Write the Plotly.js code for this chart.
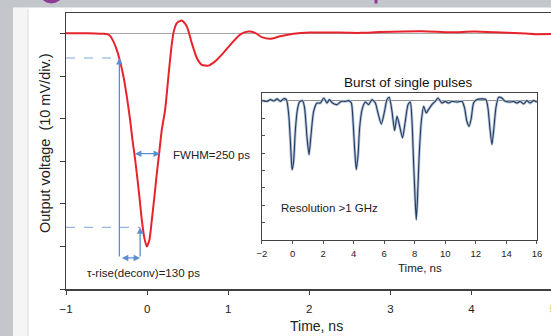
<!DOCTYPE html>
<html>
<head>
<meta charset="utf-8">
<script src="https://cdn.plot.ly/plotly-3.0.1.min.js"></script>
<style>html,body{margin:0;padding:0;background:#fff;}#chart{width:551px;height:336px;}</style>
</head>
<body>
<div id="chart"></div>
<script>
// Main pulse (time in ns, output in divisions of 10 mV)
var mainT = [-1.0,-0.826,-0.641,-0.543,-0.493,-0.456,-0.416,-0.374,-0.333,-0.292,-0.250,-0.210,-0.181,-0.157,-0.127,-0.095,-0.065,-0.033,-0.004,0.028,0.058,0.090,0.120,0.148,0.181,0.222,0.263,0.296,0.325,0.366,0.428,0.490,0.551,0.613,0.674,0.756,0.838,0.941,1.044,1.147,1.249,1.332,1.414,1.517,1.640,1.804,2.01,2.216,2.626,2.873,3.391,3.736,4.032,4.291,4.599,4.784,4.98];
var mainV = [0.01,0.01,0.007,0,-0.01,-0.05,-0.18,-0.38,-0.65,-1.00,-1.48,-2.02,-2.49,-2.82,-3.28,-3.83,-4.38,-4.81,-5.0,-4.85,-4.38,-3.83,-3.28,-2.82,-2.26,-1.79,-1.00,-0.38,0.02,0.25,0.31,0.17,-0.22,-0.57,-0.73,-0.75,-0.65,-0.45,-0.22,-0.02,0.05,0.02,-0.08,-0.12,-0.06,0.0,0.03,0.03,0.02,0.04,0.06,0.035,0.05,0.035,0.01,-0.01,-0.007];

// Inset: burst of single pulses
var burstT = [-1.99,-1.67,-1.45,-1.23,-1.01,-0.80,-0.58,-0.40,-0.25,-0.14,-0.03,0.07,0.18,0.30,0.45,0.66,0.79,0.95,1.08,1.21,1.38,1.60,1.82,2.04,2.26,2.41,2.62,2.91,3.19,3.45,3.67,3.85,3.96,4.06,4.17,4.29,4.39,4.55,4.76,4.98,5.20,5.42,5.59,5.81,6.02,6.18,6.33,6.51,6.68,6.84,6.99,7.20,7.38,7.56,7.71,7.82,7.92,8.03,8.10,8.18,8.29,8.43,8.58,8.75,8.90,9.12,9.34,9.52,9.78,9.99,10.21,10.43,10.76,11.09,11.26,11.41,11.56,11.70,11.85,12.07,12.40,12.66,12.79,12.92,13.05,13.18,13.31,13.48,13.70,13.92,14.25,14.46,14.68,14.90,15.12,15.34,15.55,15.77,15.99];
var burstV = [0.02,-0.02,0.08,0.0,0.12,-0.02,0.13,0.08,-0.79,-2.33,-3.96,-3.48,-1.75,-0.6,-0.06,0.02,-0.4,-2.13,-3.1,-1.94,-0.6,-0.12,-0.12,0.17,-0.12,0.08,-0.12,-0.21,-0.02,-0.02,0.02,-0.12,-1.17,-2.71,-3.96,-3.1,-1.56,-0.5,-0.06,-0.21,0.08,-0.12,-0.69,-1.33,-0.6,0.08,0.21,-0.6,-1.71,-0.88,-1.37,-2.13,-1.17,-0.21,-0.06,-1.17,-3.48,-5.78,-6.84,-5.59,-3.1,-1.17,-0.31,-0.69,-0.5,-0.21,-0.02,0.17,-0.12,-0.02,-0.12,-0.02,-0.06,-0.02,-0.4,-1.17,-1.46,-0.98,-0.12,0.08,0.12,0.08,-0.4,-1.56,-2.52,-1.56,-0.4,0.21,0.17,-0.02,-0.06,-0.02,-0.12,-0.02,-0.17,0.02,-0.12,0.02,-0.06];

var mainTicks = [-1,0,1,2,3,4];
var mainYTicks = [0,-1,-2,-3,-4,-5,-6];
var insetTicks = [-2,0,2,4,6,8,10,12,14,16];
var insetYTicks = [0,-1,-2,-3,-4,-5,-6,-7,-8];

var FONT = 'Liberation Sans, Arial, sans-serif';

// pixel helpers for page decoration only
function PX(px){return (px-66)/485;}
function PY(py){return (289-py)/276;}

var traces = [
  {x: mainT, y: mainV, mode:'lines', line:{color:'#e8232b', width:2, shape:'spline', smoothing:0.6}, xaxis:'x', yaxis:'y', hoverinfo:'skip'},
  {x: burstT, y: burstV, mode:'lines', line:{color:'#b3c2d6', width:2.8, shape:'spline', smoothing:0.6}, xaxis:'x2', yaxis:'y2', hoverinfo:'skip'},
  {x: burstT, y: burstV, mode:'lines', line:{color:'#243b60', width:1.1, shape:'spline', smoothing:0.6}, xaxis:'x2', yaxis:'y2', hoverinfo:'skip'}
];

var blue = '#5b8fd3';
var layout = {
  width:551, height:336,
  margin:{l:66, r:0, t:13, b:47},
  paper_bgcolor:'#ffffff', plot_bgcolor:'rgba(0,0,0,0)',
  showlegend:false,
  font:{family:FONT, color:'#222'},
  xaxis:{range:[-1,4.98], tickvals:mainTicks, ticks:'outside', ticklen:4, tickcolor:'#404040',
         showline:true, linecolor:'#404040', linewidth:1.5, mirror:true,
         showgrid:false, zeroline:false, tickfont:{size:11.5, color:'#222'}, ticklabelstandoff:5},
  yaxis:{range:[-6,0.487], tickvals:mainYTicks, ticks:'outside', ticklen:5, tickcolor:'#404040',
         showticklabels:false, showline:true, linecolor:'#404040', linewidth:1.5,
         showgrid:false, zeroline:true, zerolinecolor:'#a6a6a6', zerolinewidth:1.5},
  xaxis2:{domain:[0.4041,0.9711], anchor:'y2', range:[-2,16], tickvals:insetTicks, ticks:'outside', ticklen:3,
          tickcolor:'#555', showline:true, linecolor:'#444', linewidth:1, mirror:true,
          showgrid:false, zeroline:false, tickfont:{size:9.5, color:'#222'}, ticklabelstandoff:2},
  yaxis2:{domain:[0.1786,0.7101], anchor:'x2', range:[-8,0.46], tickvals:insetYTicks, ticks:'inside', ticklen:3,
          tickcolor:'#555', showticklabels:false, showline:true, linecolor:'#444', linewidth:1, mirror:true,
          showgrid:false, zeroline:true, zerolinecolor:'#8c8c8c', zerolinewidth:1},
  shapes:[
    // slide background decoration
    {type:'rect', xref:'paper', yref:'paper', x0:PX(0), x1:PX(13), y0:PY(336), y1:PY(0), fillcolor:'#c3c6ca', line:{width:0}, layer:'below'},
    {type:'rect', xref:'paper', yref:'paper', x0:PX(13), x1:PX(28), y0:PY(336), y1:PY(7.5), fillcolor:'#f5f5f5', line:{width:0}, layer:'below'},
    {type:'line', xref:'paper', yref:'paper', x0:PX(28), x1:PX(28), y0:PY(336), y1:PY(9), line:{color:'#dcdcdc', width:1}, layer:'below'},
    {type:'rect', xref:'paper', yref:'paper', x0:PX(0), x1:PX(551), y0:PY(7.5), y1:PY(0), fillcolor:'#c3c6ca', line:{width:0}, layer:'below'},
    {type:'path', xref:'paper', yref:'paper', path:'M '+PX(42)+' '+PY(-1)+' Q '+PX(51)+' '+PY(7)+' '+PX(61)+' '+PY(-1)+' Z', fillcolor:'#8e3a96', line:{color:'#8e3a96', width:1}, layer:'below'},
    {type:'rect', xref:'paper', yref:'paper', x0:PX(374.5), x1:PX(377.5), y0:PY(3.5), y1:PY(0), fillcolor:'#8e3a96', line:{width:0}, layer:'below'},
    // guide lines
    {type:'line', xref:'x', yref:'y', x0:-1, x1:-0.342, y0:-0.571, y1:-0.571, line:{color:'#7aa6dc', width:1, dash:'dash'}},
    {type:'line', xref:'x', yref:'y', x0:-1, x1:-0.086, y0:-4.55, y1:-4.55, line:{color:'#7aa6dc', width:1, dash:'dash'}}
  ],
  annotations:[
    {xref:'x', yref:'y', axref:'x', ayref:'y', x:-0.342, y:-0.571, ax:-0.342, ay:-5.27, text:'', showarrow:true, arrowhead:2, arrowsize:1, arrowwidth:1.3, arrowcolor:blue},
    {xref:'x', yref:'y', axref:'x', ayref:'y', x:-0.086, y:-4.55, ax:-0.086, ay:-5.27, text:'', showarrow:true, arrowhead:2, arrowsize:1, arrowwidth:1.3, arrowcolor:blue},
    {xref:'x', yref:'y', axref:'x', ayref:'y', x:-0.086, y:-5.27, ax:-0.33, ay:-5.27, text:'', showarrow:true, arrowside:'end+start', arrowhead:2, startarrowhead:2, arrowsize:1, startarrowsize:1, arrowwidth:1.3, arrowcolor:blue},
    {xref:'x', yref:'y', axref:'x', ayref:'y', x:0.160, y:-2.82, ax:-0.169, ay:-2.82, text:'', showarrow:true, arrowside:'end+start', arrowhead:2, startarrowhead:2, arrowsize:1, startarrowsize:1, arrowwidth:1.3, arrowcolor:blue},
    {xref:'x', yref:'y', x:0.296, y:-2.84, text:'FWHM=250 ps', showarrow:false, xanchor:'left', yanchor:'middle', font:{size:11.5, color:'#222'}},
    {xref:'x', yref:'y', x:-0.764, y:-5.62, text:'τ-rise(deconv)=130 ps', showarrow:false, xanchor:'left', yanchor:'middle', font:{size:11.5, color:'#222'}},
    {xref:'x', yref:'y', x:3.218, y:-1.15, text:'Burst of single pulses', showarrow:false, xanchor:'center', yanchor:'middle', font:{size:13.5, color:'#111'}},
    {xref:'x2', yref:'y2', x:-0.86, y:-6.17, text:'Resolution >1 GHz', showarrow:false, xanchor:'left', yanchor:'middle', font:{size:11.5, color:'#222'}},
    {xref:'x', yref:'y', x:3.366, y:-5.5, text:'Time, ns', showarrow:false, xanchor:'center', yanchor:'middle', font:{size:11.5, color:'#222'}},
    {xref:'paper', yref:'paper', x:0.5155, y:PY(326), text:'Time, ns', showarrow:false, xanchor:'center', yanchor:'middle', font:{size:14, color:'#222'}},
    {xref:'paper', yref:'paper', x:-0.0433, y:0.529, text:'Output voltage  (10 mV/div.)', textangle:-90, showarrow:false, xanchor:'center', yanchor:'middle', font:{size:14.5, color:'#222'}},
    {xref:'paper', yref:'paper', x:PX(553), y:PY(309), text:'5', showarrow:false, xanchor:'center', yanchor:'middle', font:{size:11.5, color:'#222'}}
  ]
};

Plotly.newPlot('chart', traces, layout, {staticPlot:true, displayModeBar:false});
</script>
</body>
</html>
